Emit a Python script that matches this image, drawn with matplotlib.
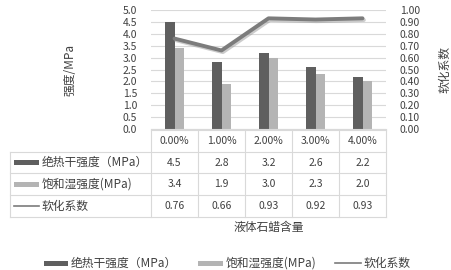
import numpy as np
import matplotlib
matplotlib.use("Agg")
import matplotlib.pyplot as plt
import matplotlib.patheffects as pe

plt.rcParams['font.family'] = ['Noto Sans CJK SC', 'DejaVu Sans']

categories = ['0.00%', '1.00%', '2.00%', '3.00%', '4.00%']
dry_strength = [4.5, 2.8, 3.2, 2.6, 2.2]
wet_strength = [3.4, 1.9, 3.0, 2.3, 2.0]
soft_coef = [0.76, 0.66, 0.93, 0.92, 0.93]

row_labels = ['绝热干强度（MPa）', '饱和湿强度(MPa)', '软化系数']
row_values = [['%.1f' % v for v in dry_strength],
              ['%.1f' % v for v in wet_strength],
              ['%.2f' % v for v in soft_coef]]

DARK = '#5f5f5f'
LIGHT = '#b4b4b4'
LINE = '#7c7c7c'
GRID = '#d9d9d9'
TXT = '#404040'

W, H = 451, 270
fig = plt.figure(figsize=(W / 100, H / 100), dpi=100)

# plot area in pixels
px0, px1, py0, py1 = 151, 386, 10, 129


def fx(x):
    return x / W


def fy(y):
    return 1 - y / H


ax = fig.add_axes([fx(px0), fy(py1), fx(px1 - px0), (py1 - py0) / H])
x = np.arange(len(categories))
bw = 0.21
ax.bar(x - bw / 2, dry_strength, bw, color=DARK, zorder=2)
ax.bar(x + bw / 2, wet_strength, bw, color=LIGHT, zorder=2)
ax.set_xlim(-0.5, len(categories) - 0.5)
ax.set_ylim(0, 5)
ax.set_yticks(np.arange(0, 5.01, 0.5))
ax.set_yticklabels(['%.1f' % v for v in np.arange(0, 5.01, 0.5)])
ax.yaxis.grid(True, color=GRID, lw=0.8, zorder=0)
ax.set_axisbelow(True)
ax.set_xticks([])
for s in ['top', 'left', 'right']:
    ax.spines[s].set_visible(False)
ax.spines['bottom'].set_color(GRID)
ax.tick_params(axis='y', length=0, labelsize=7.5, labelcolor=TXT, pad=10)
ax.set_ylabel('强度/MPa', fontsize=8.5, color=TXT, labelpad=33)

ax2 = ax.twinx()
ax2.plot(x, soft_coef, color=LINE, lw=2.8, solid_capstyle='round',
         path_effects=[pe.SimpleLineShadow(offset=(1, -1.2), shadow_color='#999999', alpha=0.5),
                       pe.Normal()])
ax2.set_ylim(0, 1.0)
ax2.set_yticks(np.arange(0, 1.001, 0.1))
ax2.set_yticklabels(['%.2f' % v for v in np.arange(0, 1.001, 0.1)])
for s in ['top', 'left', 'right', 'bottom']:
    ax2.spines[s].set_visible(False)
ax2.tick_params(axis='y', length=0, labelsize=7.5, labelcolor=TXT, pad=10)
ax2.set_ylabel('软化系数', fontsize=8.5, color=TXT, labelpad=13)

# overlay in pixel coordinates for the data table and legend
ov = fig.add_axes([0, 0, 1, 1], zorder=5)
ov.set_xlim(0, W)
ov.set_ylim(H, 0)
ov.axis('off')
ov.patch.set_alpha(0)

tx0, tx1 = 10, px1
col_w = (px1 - px0) / len(categories)
rows_y = [130, 152, 173, 195, 217]
lw = 0.8

# header row borders (only over data columns)
ov.plot([px0, px1], [rows_y[0], rows_y[0]], color=GRID, lw=lw)
for ry in rows_y[1:]:
    ov.plot([tx0, tx1], [ry, ry], color=GRID, lw=lw)
ov.plot([tx0, tx0], [rows_y[1], rows_y[-1]], color=GRID, lw=lw)
for i in range(len(categories) + 1):
    cx = px0 + i * col_w
    ov.plot([cx, cx], [rows_y[0], rows_y[-1]], color=GRID, lw=lw)

for i, c in enumerate(categories):
    ov.text(px0 + (i + 0.5) * col_w, (rows_y[0] + rows_y[1]) / 2, c,
            ha='center', va='center', fontsize=7.5, color=TXT)

key_styles = [('patch', DARK), ('patch', LIGHT), ('line', LINE)]
for r, (lab, vals) in enumerate(zip(row_labels, row_values)):
    cy = (rows_y[r + 1] + rows_y[r + 2]) / 2
    kind, col = key_styles[r]
    if kind == 'patch':
        ov.add_patch(plt.Rectangle((14, cy - 2.5), 25, 5, color=col, lw=0))
    else:
        ov.plot([14, 39], [cy, cy], color=col, lw=1.2)
    ov.text(42, cy, lab, ha='left', va='center', fontsize=8.5, color=TXT)
    for i, v in enumerate(vals):
        ov.text(px0 + (i + 0.5) * col_w, cy, v, ha='center', va='center',
                fontsize=7.5, color=TXT)

ov.text((px0 + px1) / 2, 227, '液体石蜡含量', ha='center', va='center',
        fontsize=8.5, color=TXT)

# bottom legend
ly = 263
ov.add_patch(plt.Rectangle((44, ly - 2.5), 24, 5, color=DARK, lw=0))
ov.text(71, ly, row_labels[0], ha='left', va='center', fontsize=8.5, color=TXT)
ov.add_patch(plt.Rectangle((198, ly - 2.5), 25, 5, color=LIGHT, lw=0))
ov.text(226, ly, row_labels[1], ha='left', va='center', fontsize=8.5, color=TXT)
ov.plot([335, 361], [ly, ly], color=LINE, lw=1.2)
ov.text(364, ly, row_labels[2], ha='left', va='center', fontsize=8.5, color=TXT)

fig.savefig('out.png', dpi=100)
